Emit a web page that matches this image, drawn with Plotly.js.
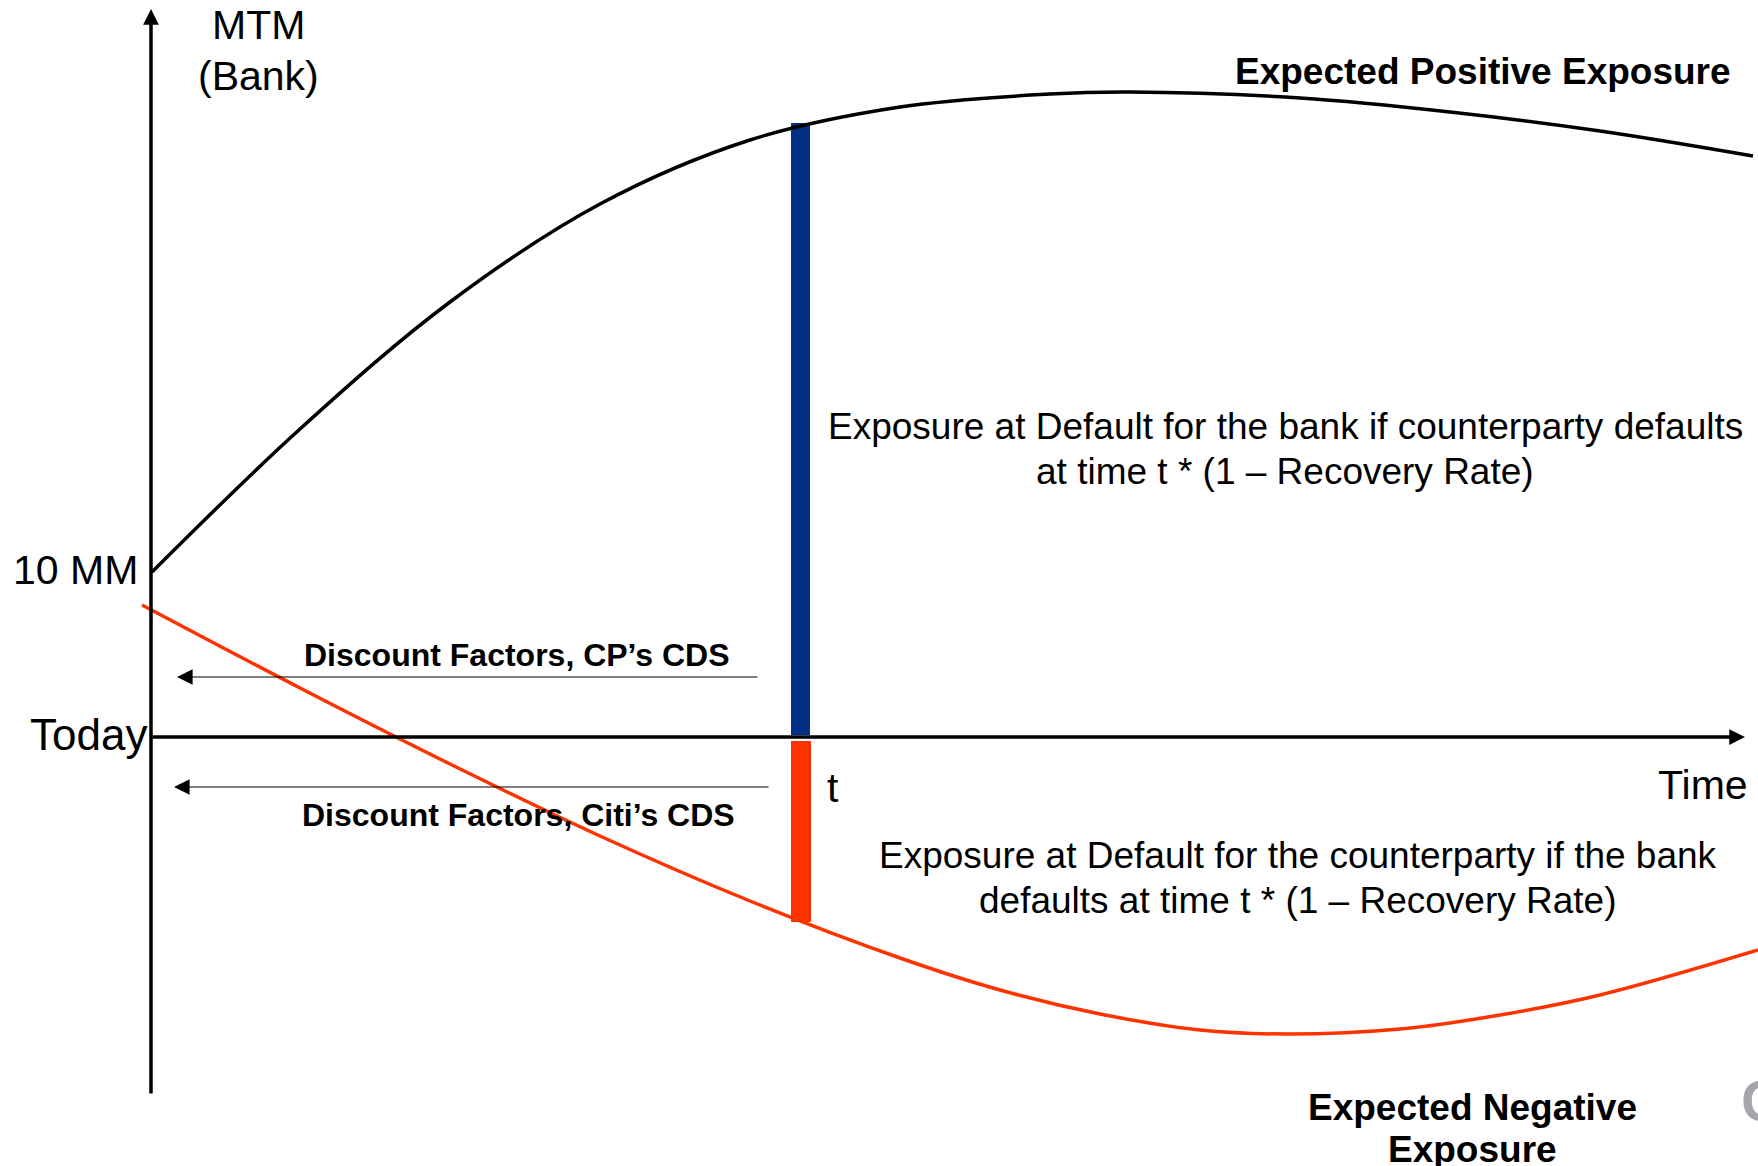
<!DOCTYPE html>
<html>
<head>
<meta charset="utf-8">
<script src="https://cdn.plot.ly/plotly-3.0.1.min.js"></script>
<style>html,body{margin:0;padding:0;background:#fff;}#chart{width:1758px;height:1166px;}</style>
</head>
<body>
<div id="chart"></div>
<script>
// Time (horizontal units, 0 = today) and MTM (vertical units, 0 = time axis)
const epeTime = [1, 149, 299, 449, 599, 749, 899, 979, 1149, 1299, 1449, 1602];
const epeMTM  = [165, 308, 435, 533, 597, 630, 643, 645, 639, 625, 606, 581];
const eneTime = [-9, 149, 299, 449, 599, 749, 849, 949, 1049, 1138, 1249, 1349, 1449, 1607];
const eneMTM  = [132, 49, -27, -99, -164, -221, -253, -277, -293, -297, -292, -278, -258, -213];
// Default time t and the exposures read at t (bar ends)
const tStar = 650;
const epeAtT = 614;
const eneAtT = -185;
const axisLabels = {y: ["MTM", "(Bank)"], x: "Time", start: "Today", level: "10 MM", t: "t"};
const epeLabel = "Expected Positive Exposure";
const eneLabel = ["Expected Negative", "Exposure"];
const eadBank = ["Exposure at Default for the bank if counterparty defaults", "at time t * (1 – Recovery Rate)"];
const eadCP = ["Exposure at Default for the counterparty if the bank", "defaults at time t * (1 – Recovery Rate)"];
const dfLabels = ["Discount Factors, CP’s CDS", "Discount Factors, Citi’s CDS"];

const FONT = "Liberation Sans, Arial, sans-serif";

const traces = [
  {type: "scatter", mode: "lines", x: epeTime, y: epeMTM,
   line: {color: "#000000", width: 3.5, shape: "spline", smoothing: 1}, hoverinfo: "skip"},
  {type: "scatter", mode: "lines", x: eneTime, y: eneMTM,
   line: {color: "#ff3300", width: 3.5, shape: "spline", smoothing: 1}, hoverinfo: "skip"},
  {type: "bar", x: [tStar], y: [epeAtT - 2], base: [2], width: [19],
   marker: {color: "#022f86", line: {width: 0}}, hoverinfo: "skip"},
  {type: "bar", x: [tStar], y: [eneAtT + 4], base: [-4], width: [20],
   marker: {color: "#ff3300", line: {width: 0}}, hoverinfo: "skip"}
];

function txt(x, y, text, size, opts) {
  return Object.assign({x: x, y: y, xref: "x", yref: "y", text: text, showarrow: false,
    font: {family: FONT, size: size, color: "#000"}, xanchor: "center", yanchor: "middle"}, opts || {});
}
function arrow(x, y, ax, ay, w, sz) {
  return {x: x, y: y, ax: ax, ay: ay, xref: "x", yref: "y", axref: "x", ayref: "y",
    text: "", showarrow: true, arrowhead: 2, arrowwidth: w, arrowsize: sz, arrowcolor: "#000",
    standoff: 0, startstandoff: 0};
}

const annotations = [
  arrow(0, 728, 0, -358, 3.5, 0.9),
  arrow(1594, 0, 0, 0, 3.5, 0.9),
  arrow(26, 60, 608, 60, 1.2, 2.6),
  arrow(23, -50, 619, -50, 1.2, 2.6),
  txt(107, 712, axisLabels.y[0], 41),
  txt(107, 661, axisLabels.y[1], 41),
  txt(-11, 167, axisLabels.level, 41, {xanchor: "right"}),
  txt(-2, 3, axisLabels.start, 44, {xanchor: "right"}),
  txt(682, -51, axisLabels.t, 41),
  txt(1552, -48, axisLabels.x, 41),
  txt(1332, 666, "<b>" + epeLabel + "</b>", 37),
  txt(1134, 311, eadBank[0], 37),
  txt(1134, 266, eadBank[1], 37),
  txt(1147, -118, eadCP[0], 37),
  txt(1147, -163, eadCP[1], 37),
  txt(366, 82, "<b>" + dfLabels[0] + "</b>", 32),
  txt(367, -78, "<b>" + dfLabels[1] + "</b>", 32),
  txt(1321, -370, "<b>" + eneLabel[0] + "</b>", 37),
  txt(1321, -412, "<b>" + eneLabel[1] + "</b>", 37),
  txt(1588, -363, "<b>C</b>", 58, {xanchor: "left", font: {family: FONT, size: 58, color: "#a3a7ab"}})
];

const layout = {
  width: 1758, height: 1166,
  margin: {l: 0, r: 0, t: 0, b: 0, pad: 0},
  paper_bgcolor: "#ffffff", plot_bgcolor: "#ffffff",
  showlegend: false,
  xaxis: {range: [-151, 1607], visible: false, fixedrange: true},
  yaxis: {range: [-429, 737], visible: false, fixedrange: true},
  annotations: annotations,
  bargap: 0
};

Plotly.newPlot("chart", traces, layout, {displayModeBar: false, staticPlot: true});
</script>
</body>
</html>
